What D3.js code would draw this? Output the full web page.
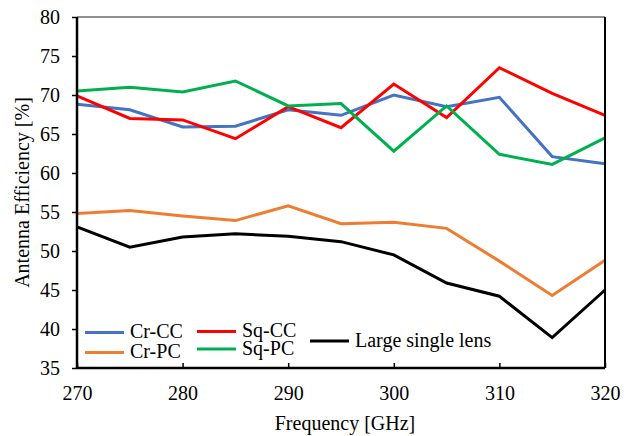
<!DOCTYPE html>
<html><head><meta charset="utf-8">
<script src="https://cdn.jsdelivr.net/npm/d3@7"></script>
<style>body{margin:0;background:#fff}text{font-family:"Liberation Serif","Times New Roman",serif;fill:#000}</style>
</head><body><svg id="c" width="635" height="436"></svg>
<script>
const freqs = [270,275,280,285,290,295,300,305,310,315,320];
const crCC = [68.8,68.1,65.9,66.0,68.1,67.4,70.0,68.5,69.7,62.1,61.2];
const crPC = [54.8,55.2,54.5,53.9,55.8,53.5,53.7,52.9,48.7,44.3,48.8];
const sqCC = [69.9,67.0,66.8,64.4,68.5,65.8,71.4,67.1,73.5,70.2,67.4];
const sqPC = [70.5,71.0,70.4,71.8,68.6,68.9,62.8,68.6,62.4,61.1,64.5];
const large = [53.1,50.5,51.8,52.2,51.9,51.2,49.5,45.9,44.2,38.9,45.0];
const xTicks = [270,280,290,300,310,320];
const yTicks = [35,40,45,50,55,60,65,70,75,80];

const series = [
  {name:"Cr-CC", values:crCC, color:"#4472C4"},
  {name:"Cr-PC", values:crPC, color:"#ED7D31"},
  {name:"Sq-CC", values:sqCC, color:"#FF0000"},
  {name:"Sq-PC", values:sqPC, color:"#00B050"},
  {name:"Large single lens", values:large, color:"#000000"}
];

const svg = d3.select("#c");
const L=77, R=605, T=17, B=368;
const FS = "20px";
const x = d3.scaleLinear().domain([270,320]).range([L,R]);
const y = d3.scaleLinear().domain([35,80]).range([B,T]);

// series
const line = d3.line().x((d,i)=>x(freqs[i])).y(d=>y(d));
series.forEach(s=>{
  svg.append("path").attr("d", line(s.values)).attr("fill","none")
    .attr("stroke", s.color).attr("stroke-width", 3).attr("stroke-linejoin","miter");
});

// frame top/right
svg.append("line").attr("x1",L).attr("x2",R).attr("y1",T).attr("y2",T).attr("stroke","#222").attr("stroke-width",1.2);
svg.append("line").attr("x1",R).attr("x2",R).attr("y1",T).attr("y2",B).attr("stroke","#000").attr("stroke-width",2);

// axes
const yAxis = svg.append("g").attr("transform",`translate(${L},0)`)
  .call(d3.axisLeft(y).tickValues(yTicks).tickSize(5).tickPadding(12));
const xAxis = svg.append("g").attr("transform",`translate(0,${B})`)
  .call(d3.axisBottom(x).tickValues(xTicks).tickSizeInner(-5).tickSizeOuter(0).tickPadding(14));
[yAxis,xAxis].forEach(g=>{
  g.select(".domain").attr("stroke","#000").attr("stroke-width",2.5);
  g.selectAll(".tick line").attr("stroke","#000").attr("stroke-width",1.5);
  g.selectAll("text").style("font-family",'"Liberation Serif",serif').style("font-size",FS).attr("fill","#000");
});
yAxis.select(".domain").attr("d",`M0,${B}V${T}`);
xAxis.select(".domain").attr("d",`M${L},0H${R}`);
yAxis.selectAll("text").attr("x",-17).attr("dy","0.33em");
xAxis.selectAll("text").attr("y",32).attr("dy","0");

// titles
svg.append("text").attr("x",(L+R)/2+4).attr("y",430).attr("text-anchor","middle")
  .style("font-size",FS).text("Frequency [GHz]");
svg.append("text").attr("transform",`translate(29,${(T+B)/2}) rotate(-90)`).attr("text-anchor","middle")
  .style("font-size",FS).text("Antenna Efficiency [%]");

// legend
const leg = [
  {s:series[0], x:85, y:332.5},
  {s:series[1], x:85, y:352.5},
  {s:series[2], x:197, y:331.5},
  {s:series[3], x:197, y:349},
  {s:series[4], x:310, y:341}
];
leg.forEach(l=>{
  svg.append("line").attr("x1",l.x).attr("x2",l.x+39).attr("y1",l.y).attr("y2",l.y)
    .attr("stroke",l.s.color).attr("stroke-width",3);
  svg.append("text").attr("x",l.x+45).attr("y",l.y+5.5).style("font-size",FS).text(l.s.name);
});
</script></body></html>
